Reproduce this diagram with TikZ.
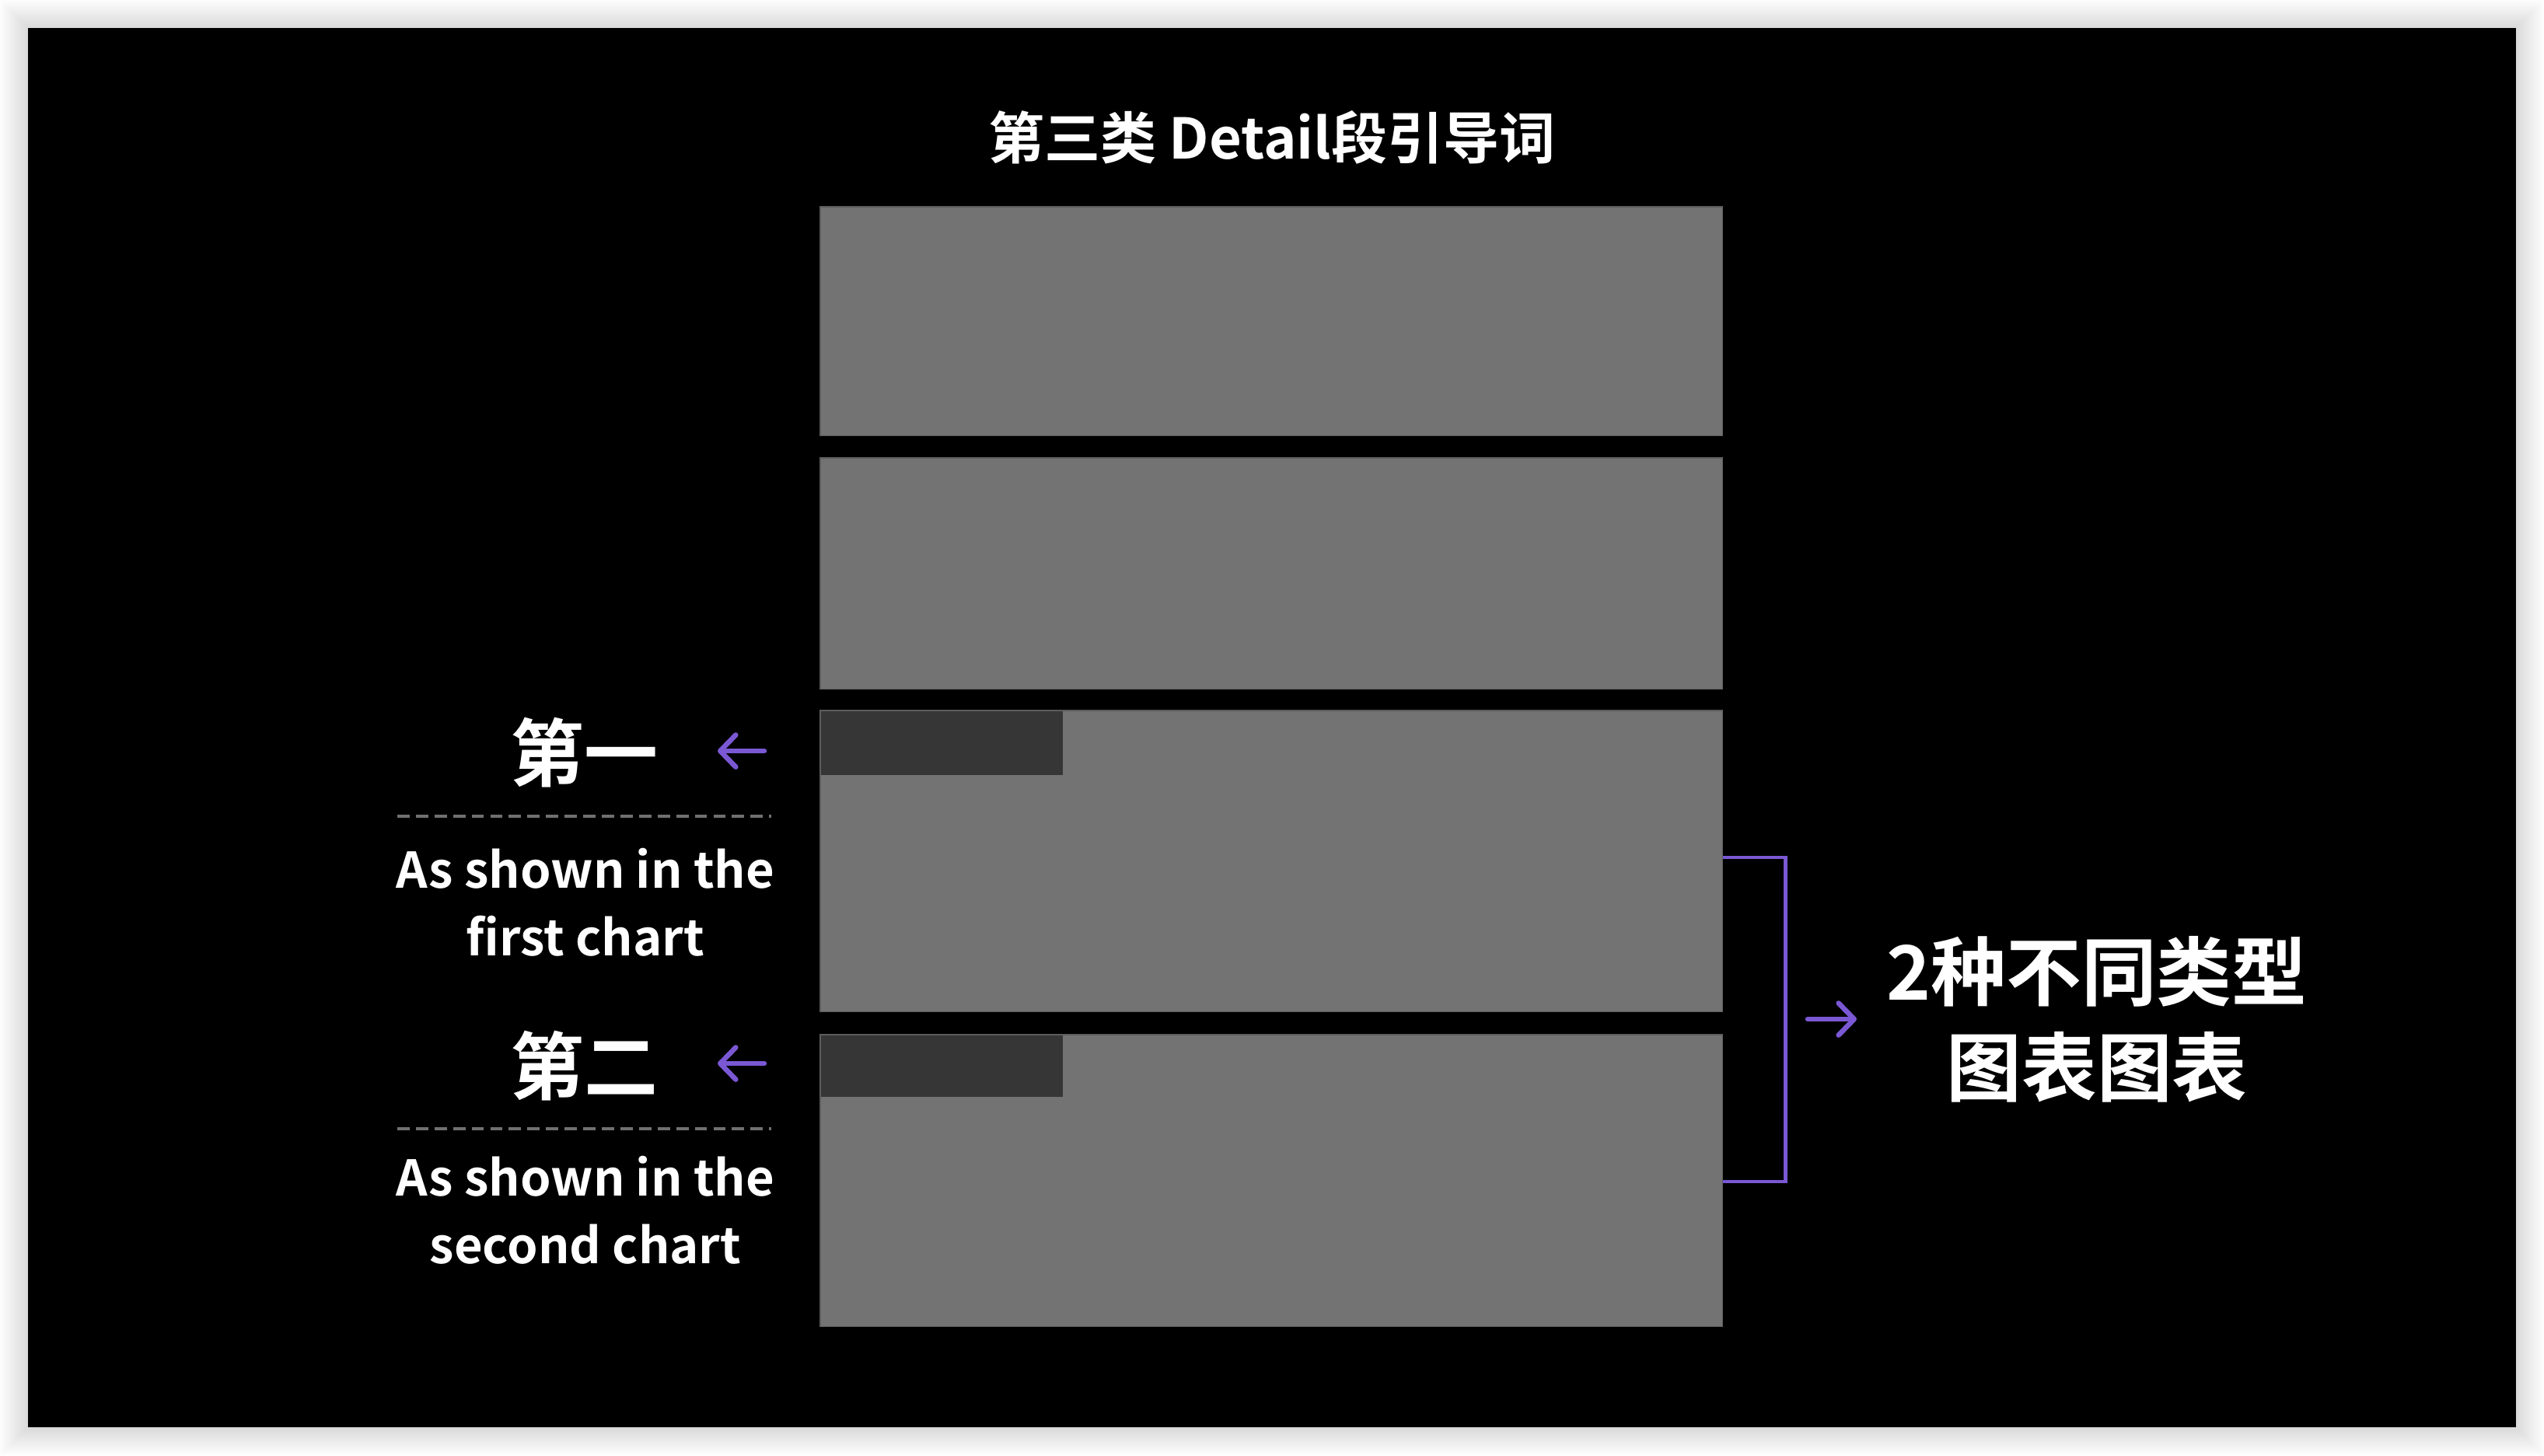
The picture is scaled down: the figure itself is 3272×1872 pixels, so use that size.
\documentclass[tikz,border=0pt]{standalone}
\usepackage{fontspec}
\setmainfont{Noto Sans CJK SC}[BoldFont={Noto Sans CJK SC Bold}]
\usetikzlibrary{arrows.meta}
\definecolor{boxgray}{HTML}{737373}
\definecolor{boxline}{HTML}{5C5C5C}
\definecolor{tabgray}{HTML}{363636}
\definecolor{accent}{RGB}{122,88,212}
\definecolor{dashgray}{HTML}{707070}

\begin{document}
\begin{tikzpicture}[x=0.01cm,y=-0.01cm,every node/.style={text=white,font=\bfseries}]
	\tikzset{chart/.style={draw=boxline, fill=boxgray, line width=0.3pt,
				minimum width=11.6cm, anchor=north west, inner sep=0pt, outer sep=0pt},
			tab/.style={fill=tabgray, minimum width=3.11cm, anchor=north west, inner sep=0pt},
			head/.style={font=\bfseries\fontsize{20.5}{26}\selectfont},
			big/.style={font=\bfseries\fontsize{27}{32}\selectfont},
			note/.style={align=center, inner sep=0pt, font=\bfseries\fontsize{18}{24.75}\selectfont},
			sum/.style={align=center, inner sep=0pt, font=\bfseries\fontsize{27.5}{35}\selectfont},
			pointer/.style={-{Straight Barb[round,length=5.7pt,width=11.7pt]},
				line width=1.85pt, line cap=round, color=accent},
			bracket/.style={draw=accent, line width=1.3pt},
			rule/.style={draw=dashgray, line width=1pt, dash pattern=on 4.5pt off 2.3pt}}
	\useasboundingbox (0,0) rectangle (3272,1872);
	\fill[white] (0,0) rectangle (3272,1872);
	\foreach \i in {1,...,12}
		\fill[black, opacity=0.013] (36-\i*3,36-\i*3) rectangle (3236+\i*3,1836+\i*3);
	\fill[black] (36,36) rectangle (3236,1836);
	\node[chart, minimum height=2.94cm] (top) at (1055,266) {};
	\node[chart, minimum height=2.97cm] (mid) at (1055,589) {};
	\node[chart, minimum height=3.87cm] (one) at (1055,914) {};
	\node[chart, minimum height=3.75cm] (two) at (1055,1331) {};
	\node[tab, minimum height=0.82cm] (tabA) at (one.north west) {};
	\node[tab, minimum height=0.79cm] (tabB) at (two.north west) {};
	\node[head] (title) at (1636,177) {第三类 Detail段引导词};
	\node[big] (nOne) at (751,968) {第一};
	\node[big] (nTwo) at (751,1371) {第二};
	\coordinate (aOne) at (983,966);
	\coordinate (aTwo) at (983,1368);
	\draw[pointer] (aOne) -- ++(-60,0);
	\draw[pointer] (aTwo) -- ++(-60,0);
	\draw[rule] (511,1050) -- (992,1050);
	\draw[rule] (511,1452) -- (992,1452);
	\node[note] (tOne) at (753,1161) {As shown in the\\first chart};
	\node[note] (tTwo) at (753,1557) {As shown in the\\second chart};
	\draw[bracket] (one.east |- 0,1103) -- ++(81,0) |- (two.east |- 0,1520);
	\node[sum] (sum) at (2697,1311) {2种不同类型\\图表图表};
	\draw[pointer] (2325,1311) -- (sum.west -| 2388,0);
\end{tikzpicture}
\end{document}
